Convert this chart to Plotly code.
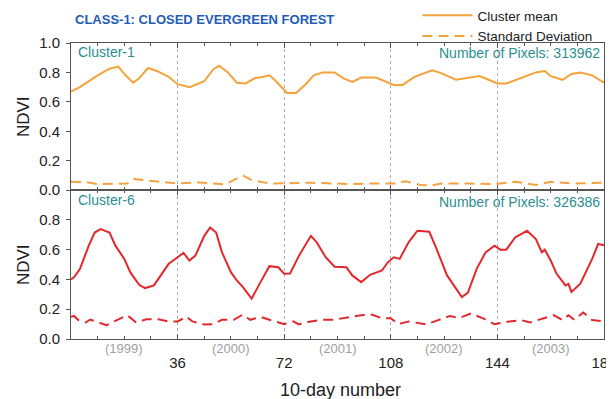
import plotly.graph_objects as go

# ---------------- data ----------------
c1_mean_x = [0, 3, 9, 13, 16, 18, 21, 23, 26, 29, 33, 36, 40, 45, 48, 50, 53, 56, 59, 62, 65, 67, 69, 73,
             76, 79, 82, 85, 89, 92, 95, 98, 103, 105, 109, 112, 116, 122, 125, 130, 134, 138, 141, 144,
             147, 151, 157, 160, 162, 166, 169, 172, 176, 180]
c1_mean_y = [0.67, 0.70, 0.78, 0.825, 0.84, 0.79, 0.73, 0.76, 0.83, 0.81, 0.77, 0.72, 0.70, 0.74, 0.82,
             0.845, 0.80, 0.73, 0.725, 0.76, 0.77, 0.78, 0.745, 0.66, 0.66, 0.715, 0.78, 0.80, 0.80, 0.76,
             0.735, 0.765, 0.765, 0.75, 0.715, 0.715, 0.77, 0.815, 0.795, 0.75, 0.765, 0.775, 0.75, 0.725,
             0.725, 0.755, 0.80, 0.81, 0.775, 0.75, 0.79, 0.80, 0.78, 0.73]

c1_sd_x = [0, 5, 9, 17, 19, 21, 26, 31, 36, 43, 52, 58, 61, 67, 74, 81, 89, 95, 100, 109, 113, 118, 122,
           125, 134, 143, 150, 157, 162, 170, 180]
c1_sd_y = [0.057, 0.055, 0.04, 0.04, 0.045, 0.075, 0.065, 0.057, 0.045, 0.052, 0.039, 0.10, 0.068, 0.045,
           0.05, 0.05, 0.045, 0.041, 0.045, 0.045, 0.06, 0.035, 0.032, 0.045, 0.045, 0.04, 0.057, 0.035,
           0.057, 0.045, 0.05]

c6_mean_x = [0, 1, 3, 6, 8, 10, 13, 15, 18, 20, 23, 25, 28, 31, 33, 36, 38, 40, 42, 45, 47, 49, 51, 54, 56,
             58, 61, 64, 67, 70, 72, 74, 77, 81, 83, 86, 89, 93, 95, 98, 101, 105, 107, 109, 111, 114, 117,
             121, 123, 127, 132, 134, 137, 140, 143, 145, 147, 150, 154, 157, 159, 160, 162, 164, 167, 168,
             169, 172, 176, 178, 180]
c6_mean_y = [0.40, 0.415, 0.47, 0.627, 0.715, 0.738, 0.715, 0.627, 0.538, 0.449, 0.364, 0.342, 0.36, 0.449,
             0.505, 0.549, 0.578, 0.527, 0.56, 0.693, 0.749, 0.715, 0.582, 0.449, 0.393, 0.35, 0.271, 0.382,
             0.489, 0.482, 0.438, 0.44, 0.56, 0.693, 0.649, 0.549, 0.485, 0.482, 0.427, 0.382, 0.431, 0.46,
             0.515, 0.549, 0.538, 0.649, 0.727, 0.72, 0.627, 0.427, 0.282, 0.31, 0.471, 0.582, 0.627, 0.60,
             0.60, 0.682, 0.727, 0.671, 0.582, 0.60, 0.527, 0.438, 0.36, 0.37, 0.316, 0.371, 0.538, 0.638,
             0.63]

c6_sd_x = [0, 1, 2.5, 5, 6.5, 9, 12, 15.5, 19, 22, 25.5, 29.5, 33, 36, 39, 41, 45, 48, 51, 55, 58, 60.5, 64,
           67, 72, 75, 77, 81, 85, 89, 94, 98, 101.5, 105, 108, 110.5, 114, 116, 120, 124, 128, 131, 135,
           139, 143, 148, 152, 155, 160, 163, 166, 168, 170, 173, 176, 180]
c6_sd_y = [0.15, 0.155, 0.127, 0.111, 0.131, 0.116, 0.093, 0.127, 0.16, 0.111, 0.133, 0.133, 0.118, 0.118,
           0.149, 0.118, 0.098, 0.10, 0.129, 0.129, 0.164, 0.129, 0.149, 0.129, 0.10, 0.118, 0.098, 0.118,
           0.129, 0.13, 0.149, 0.16, 0.164, 0.14, 0.14, 0.10, 0.118, 0.111, 0.098, 0.127, 0.155, 0.14,
           0.171, 0.14, 0.10, 0.118, 0.127, 0.111, 0.14, 0.16, 0.127, 0.16, 0.129, 0.178, 0.127, 0.118]

x_tickvals = [36, 72, 108, 144, 180]
year_labels = ["(1999)", "(2000)", "(2001)", "(2002)", "(2003)"]
year_centers = [18, 54, 90, 126, 162]
top_yticks = [0.0, 0.2, 0.4, 0.6, 0.8, 1.0]
bot_yticks = [0.0, 0.2, 0.4, 0.6, 0.8]

# ---------------- style ----------------
ORANGE = "#f4a23c"
RED = "#e2282c"
TEAL = "#2a9090"
BLUE = "#1f5cb8"
GREY = "#a0a0a0"
AXC = "#555555"
FONT = "Liberation Sans, Arial, sans-serif"
DASH = "10px,6px"

fig = go.Figure()
fig.add_trace(go.Scatter(x=c1_mean_x, y=c1_mean_y, mode="lines", name="Cluster mean",
                         line=dict(color=ORANGE, width=2), xaxis="x2", yaxis="y"))
fig.add_trace(go.Scatter(x=c1_sd_x, y=c1_sd_y, mode="lines", name="Standard Deviation",
                         line=dict(color=ORANGE, width=2, dash=DASH), xaxis="x2", yaxis="y"))
fig.add_trace(go.Scatter(x=c6_mean_x, y=c6_mean_y, mode="lines", showlegend=False,
                         line=dict(color=RED, width=2), xaxis="x", yaxis="y2"))
fig.add_trace(go.Scatter(x=c6_sd_x, y=c6_sd_y, mode="lines", showlegend=False,
                         line=dict(color=RED, width=2, dash=DASH), xaxis="x", yaxis="y2"))

split = 0.503
xcommon = dict(range=[0, 180], tickvals=x_tickvals, showline=True, linecolor=AXC, linewidth=1,
               mirror="allticks", ticks="inside", ticklen=5, tickcolor=AXC,
               minor=dict(dtick=9, tick0=0, ticks="inside", ticklen=3, tickcolor=AXC, showgrid=False),
               showgrid=True, gridcolor="#aaaaaa", griddash="dot", gridwidth=1,
               zeroline=False, fixedrange=True, automargin=False)
ycommon = dict(range=[0, 1], showline=True, linecolor=AXC, linewidth=1, mirror=True,
               ticks="outside", ticklen=4, tickcolor=AXC, tickformat=".1f", showgrid=False,
               zeroline=False, tickfont=dict(size=15, color="#222222", family=FONT),
               ticklabelstandoff=3, automargin=False)

# the page body adds an 8px offset, so the figure is 8px smaller and margins shifted
fig.update_layout(
    width=606, height=391,
    margin=dict(l=63, r=10, t=35, b=60, autoexpand=False),
    paper_bgcolor="white", plot_bgcolor="white",
    font=dict(family=FONT, color="#222222"),
    xaxis=dict(domain=[0, 1], anchor="y2", showticklabels=True,
               tickfont=dict(size=15, color="#222222", family=FONT), ticklabelstandoff=10,
               ticklabeloverflow="allow", **xcommon),
    xaxis2=dict(domain=[0, 1], anchor="y", showticklabels=False, **xcommon),
    yaxis=dict(domain=[split, 1], anchor="x2", tickvals=top_yticks, **ycommon),
    yaxis2=dict(domain=[0, split], anchor="x", tickvals=bot_yticks, **ycommon),
    showlegend=True,
    legend=dict(x=0.65, y=1.145, xanchor="left", yanchor="top", bgcolor="rgba(0,0,0,0)",
                font=dict(size=13.5, color="#222222", family=FONT), tracegroupgap=0,
                itemwidth=50),
)

ann = []
ann.append(dict(text="<b>CLASS-1: CLOSED EVERGREEN FOREST</b>", xref="paper", yref="paper",
                x=0.003, y=1.078, xanchor="left", yanchor="middle", showarrow=False,
                font=dict(size=13, color=BLUE, family=FONT)))
ann.append(dict(text="Cluster-1", xref="paper", yref="paper", x=0.01, y=0.968,
                xanchor="left", yanchor="middle", showarrow=False,
                font=dict(size=14, color=TEAL, family=FONT)))
ann.append(dict(text="Number of Pixels: 313962", xref="paper", yref="paper", x=0.997, y=0.966,
                xanchor="right", yanchor="middle", showarrow=False,
                font=dict(size=14, color=TEAL, family=FONT)))
ann.append(dict(text="Cluster-6", xref="paper", yref="paper", x=0.01, y=0.47,
                xanchor="left", yanchor="middle", showarrow=False,
                font=dict(size=14, color=TEAL, family=FONT)))
ann.append(dict(text="Number of Pixels: 326386", xref="paper", yref="paper", x=0.997, y=0.462,
                xanchor="right", yanchor="middle", showarrow=False,
                font=dict(size=14, color=TEAL, family=FONT)))
for xc, lab in zip(year_centers, year_labels):
    ann.append(dict(text=lab, xref="x", yref="paper", x=xc, y=-0.031, xanchor="center",
                    yanchor="middle", showarrow=False, font=dict(size=13, color=GREY, family=FONT)))
ann.append(dict(text="10-day number", xref="paper", yref="paper", x=0.505, y=-0.172,
                xanchor="center", yanchor="middle", showarrow=False,
                font=dict(size=18, color="#222222", family=FONT)))
for yc in [0.75, 0.25]:
    ann.append(dict(text="NDVI", xref="paper", yref="paper", x=-0.09, y=yc, textangle=-90,
                    xanchor="center", yanchor="middle", showarrow=False,
                    font=dict(size=17, color="#222222", family=FONT)))
fig.update_layout(annotations=ann)

fig.write_html("out.html")
